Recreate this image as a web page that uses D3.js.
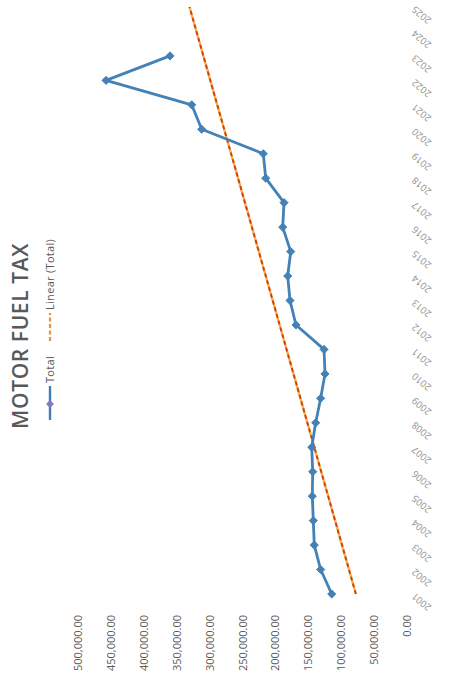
<!DOCTYPE html>
<html><head><meta charset="utf-8">
<script src="https://cdn.jsdelivr.net/npm/d3@7"></script>
<style>
html,body{margin:0;padding:0;background:#fff;}
svg{display:block;font-family:"Open Sans",sans-serif;}
</style></head>
<body>
<svg id="c" width="461" height="675"></svg>
<script>
const years = ["2001","2002","2003","2004","2005","2006","2007","2008","2009","2010","2011","2012","2013","2014","2015","2016","2017","2018","2019","2020","2021","2022","2023","2024","2025"];
const totals = [114400,131200,140900,142400,143900,143300,144800,138800,131200,124600,126100,168700,177800,181300,176700,188900,186900,214700,218400,312000,327200,457400,360200];
const valueTicks = [0,50000,100000,150000,200000,250000,300000,350000,400000,450000,500000];
const titleText = "MOTOR FUEL TAX";
const seriesName = "Total";
const trendName = "Linear (Total)";

const W = 675, H = 461; // chart drawn upright, then rotated -90deg
const svg = d3.select("#c");
const g = svg.append("g").attr("transform", `translate(0,${W}) rotate(-90)`);

const x = d3.scalePoint().domain(years).range([81, 668]);
const y = d3.scaleLinear().domain([0, 500000]).range([407, 78]);

// value axis labels
const fmt = d3.format(",.2f");
const yAxis = d3.axisLeft(y).tickValues(valueTicks).tickFormat(fmt).tickSize(0).tickPadding(0);
const ya = g.append("g").attr("transform", "translate(60,0)").call(yAxis);
ya.select(".domain").remove();
ya.selectAll("text").attr("fill", "#595959").attr("font-size", 11).attr("font-family", "Open Sans");

// category axis labels
const xAxis = d3.axisBottom(x).tickSize(0).tickPadding(0);
const xa = g.append("g").attr("transform", "translate(0,411)").call(xAxis);
xa.select(".domain").remove();
xa.selectAll("text")
  .attr("fill", "#8f8f8f").attr("font-size", 9.5).attr("font-family", "Open Sans")
  .attr("text-anchor", "end").attr("dy", "0.7em").attr("dx", "0")
  .attr("transform", "translate(-4,0) rotate(-50)");

// trendline (least squares over data points)
const n = totals.length;
const idx = d3.range(1, n + 1);
const mx = d3.mean(idx), my = d3.mean(totals);
const slope = d3.sum(idx.map((v, i) => (v - mx) * (totals[i] - my))) / d3.sum(idx.map(v => (v - mx) * (v - mx)));
const intercept = my - slope * mx;
const trend = years.map((yr, i) => ({yr, v: intercept + slope * (i + 1)}));
const tline = d3.line().x(d => x(d.yr)).y(d => y(d.v));
g.append("path").attr("d", tline(trend)).attr("fill", "none").attr("stroke", "#F2B43C").attr("stroke-width", 2.4);
g.append("path").attr("d", tline(trend)).attr("fill", "none").attr("stroke", "#D1372A").attr("stroke-width", 1.8).attr("stroke-dasharray", "4,3");

// series line
const data = totals.map((v, i) => ({yr: years[i], v}));
const line = d3.line().x(d => x(d.yr)).y(d => y(d.v));
g.append("path").attr("d", line(data)).attr("fill", "none").attr("stroke", "#4381B6").attr("stroke-width", 2.8).attr("stroke-linejoin", "round");
const diamond = d3.symbol().type(d3.symbolDiamond2).size(42);
g.selectAll(".pt").data(data).join("path")
  .attr("d", diamond).attr("transform", d => `translate(${x(d.yr)},${y(d.v)})`)
  .attr("fill", "#4381B6").attr("stroke", "#4381B6").attr("stroke-width", 1);

// title
g.append("text").attr("x", 339).attr("y", 28).attr("text-anchor", "middle")
  .attr("font-size", 21).attr("font-weight", 600).attr("fill", "#595959").attr("letter-spacing", 0.6)
  .text(titleText);

// legend
const lg = g.append("g");
lg.append("line").attr("x1", 255).attr("x2", 289).attr("y1", 50).attr("y2", 50).attr("stroke", "#3F7FB5").attr("stroke-width", 2.4);
lg.append("path").attr("d", d3.symbol().type(d3.symbolDiamond2).size(30)).attr("transform", "translate(271,50)")
  .attr("fill", "#6F7FC0").attr("stroke", "#B561B0").attr("stroke-width", 1);
lg.append("text").attr("x", 292).attr("y", 50).attr("dy", "0.35em").attr("font-size", 11).attr("letter-spacing", 0.3).attr("fill", "#595959").text(seriesName);
lg.append("line").attr("x1", 334).attr("x2", 362).attr("y1", 50).attr("y2", 50).attr("stroke", "#E8943A").attr("stroke-width", 2.2).attr("stroke-dasharray", "4,2.5");
lg.append("text").attr("x", 365).attr("y", 50).attr("dy", "0.35em").attr("font-size", 11).attr("letter-spacing", 0.3).attr("fill", "#595959").text(trendName);
</script>
</body></html>
